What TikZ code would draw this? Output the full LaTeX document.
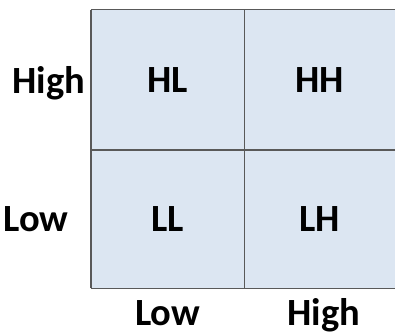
\documentclass[tikz,border=0pt]{standalone}
\usepackage{fontspec}
\setmainfont{Carlito}
\definecolor{cellfill}{HTML}{DCE6F2}
\definecolor{gridline}{HTML}{595959}
\begin{document}
\begin{tikzpicture}[x=1pt,y=-1pt,
  cell/.style={fill=cellfill, draw=none, inner sep=0pt, font=\fontsize{38.5}{40}\selectfont\bfseries},
  axislab/.style={inner sep=0pt, anchor=base, font=\fontsize{38.5}{40}\selectfont\bfseries},
  gridln/.style={draw=gridline, line width=1.4pt}]
\useasboundingbox (0,0) rectangle (395,336);
\node[cell, minimum width=153pt, minimum height=140pt] (hl) at (167.5,80) {HL};
\node[cell, minimum width=151pt, minimum height=140pt] (hh) at (319.5,80) {HH};
\node[cell, minimum width=153pt, minimum height=138pt] (ll) at (167.5,219) {LL};
\node[cell, minimum width=151pt, minimum height=138pt] (lh) at (319.5,219) {LH};
\draw[gridln] (hl.north west) -- (hh.north east);
\draw[gridln] (hl.north west) -- (ll.south west);
\draw[gridln] (ll.south west) -- (lh.south east);
\draw[gridln] (hl.north east) -- (ll.south east);
\draw[gridln] (hl.south west) -- (hh.south east);
\node[axislab] (yhigh) at (49,93.5) {High};
\node[axislab] (ylow) at (36,231) {Low};
\node[axislab] (xlow) at (167.5,325) {Low};
\node[axislab] (xhigh) at (324,325) {High};
\end{tikzpicture}
\end{document}
